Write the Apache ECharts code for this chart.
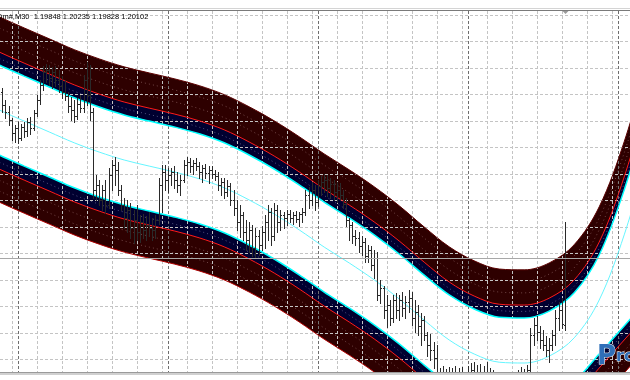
<!DOCTYPE html>
<html><head><meta charset="utf-8">
<script src="https://cdn.jsdelivr.net/npm/echarts@6/dist/echarts.min.js"></script>
<style>html,body{margin:0;padding:0;background:#fff}#c{width:630px;height:380px}</style>
</head><body><div id="c"></div>
<script>
// ---------- data (prices, bar index on x) ----------
const headerText = 'Dm#,M30  1.19848 1.20235 1.19828 1.20102';
const firstBar = -3;
const barOpen = [1.20728,1.20679,1.20652,1.20622,1.20574,1.20593,1.20555,1.20596,1.20581,1.20614,1.20593,1.20649,
1.20698,1.20755,1.20803,1.20811,1.20782,1.20803,1.20774,1.20751,1.20728,1.20713,1.20675,1.20660,1.20637,1.20683,1.20668,1.20774,1.20717,1.20652,1.20358,
1.20377,1.20320,1.20358,1.20301,1.20415,1.20452,1.20433,1.20358,1.20301,1.20252,1.20282,1.20215,1.20244,1.20199,1.20236,1.20207,1.20226,1.20215,1.20207,1.20244,1.20377,
1.20426,1.20396,1.20415,1.20426,1.20396,1.20377,1.20396,1.20452,1.20463,1.20449,1.20460,1.20449,1.20426,1.20441,1.20422,1.20433,1.20418,1.20411,
1.20377,1.20388,1.20350,1.20373,1.20320,1.20290,1.20236,1.20263,1.20199,1.20169,1.20207,1.20139,1.20184,1.20150,1.20199,1.20236,1.20274,1.20184,1.20282,1.20236,
1.20263,1.20252,1.20267,1.20252,1.20263,1.20248,1.20267,1.20274,1.20339,1.20320,1.20358,1.20312,1.20373,1.20388,1.20396,1.20366,1.20381,1.20350,
1.20358,1.20339,1.20305,1.20244,1.20226,1.20184,1.20177,1.20146,1.20161,1.20108,1.20131,1.20074,1.20101,1.19961,1.19987,1.19904,1.19923,1.19874,1.19942,1.19904,1.19942,1.19912,1.19934,1.19950,
1.19874,1.19896,1.19844,1.19866,1.19810,1.19772,1.19753,1.19723,1.19659,1.19640,1.19647,1.19621,1.19659,1.19640,1.19670,1.19632,1.19647,
1.19621,1.19659,1.19677,1.19647,1.19670,1.19640,1.19659,1.19632,1.19602,1.19621,1.19594,1.19571,1.19602,1.19583,1.19621,1.19602,1.19640,1.19655,1.19670,1.19640,
1.19677,1.19810,1.19848,1.19821,1.19791,1.19772,1.19753,1.19772,1.19810,1.19874,1.19904,1.19848];
const barHigh = [1.20744,1.20698,1.20675,1.20630,1.20604,1.20614,1.20607,1.20614,1.20630,1.20633,1.20660,1.20717,
1.20774,1.20826,1.20834,1.20830,1.20822,1.20826,1.20811,1.20789,1.20774,1.20728,1.20709,1.20698,1.20706,1.20717,1.20793,1.20842,1.20830,1.20668,1.20415,
1.20396,1.20377,1.20396,1.20441,1.20471,1.20482,1.20463,1.20377,1.20328,1.20320,1.20309,1.20282,1.20301,1.20263,1.20267,1.20259,1.20274,1.20252,1.20263,1.20404,1.20452,
1.20452,1.20441,1.20441,1.20449,1.20426,1.20415,1.20471,1.20482,1.20479,1.20471,1.20479,1.20463,1.20452,1.20456,1.20449,1.20449,1.20433,1.20426,
1.20404,1.20404,1.20396,1.20385,1.20358,1.20320,1.20301,1.20274,1.20244,1.20236,1.20226,1.20215,1.20207,1.20222,1.20263,1.20301,1.20290,1.20309,1.20301,1.20282,
1.20274,1.20282,1.20282,1.20274,1.20278,1.20274,1.20290,1.20358,1.20369,1.20388,1.20377,1.20396,1.20411,1.20418,1.20415,1.20404,1.20396,1.20388,
1.20385,1.20358,1.20328,1.20252,1.20236,1.20207,1.20199,1.20184,1.20177,1.20150,1.20146,1.20131,1.20123,1.20018,1.19995,1.19961,1.19942,1.19961,1.19969,1.19961,1.19972,1.19957,1.19980,1.19972,
1.19942,1.19923,1.19893,1.19881,1.19821,1.19813,1.19783,1.19772,1.19685,1.19692,1.19681,1.19688,1.19685,1.19692,1.19685,1.19688,1.19670,
1.19692,1.19704,1.19708,1.19696,1.19700,1.19692,1.19708,1.19685,1.19677,1.19655,1.19640,1.19632,1.19640,1.19647,1.19655,1.19662,1.19677,1.19688,1.19681,1.19696,
1.19836,1.19874,1.19881,1.19844,1.19829,1.19806,1.19798,1.19829,1.19904,1.19934,1.19950,1.20235];
const barLow = [1.20652,1.20630,1.20604,1.20547,1.20539,1.20536,1.20547,1.20558,1.20562,1.20570,1.20585,1.20637,
1.20683,1.20736,1.20766,1.20755,1.20744,1.20751,1.20728,1.20706,1.20698,1.20652,1.20622,1.20614,1.20626,1.20652,1.20652,1.20679,1.20622,1.20328,1.20320,
1.20301,1.20282,1.20271,1.20290,1.20358,1.20377,1.20339,1.20282,1.20215,1.20199,1.20177,1.20158,1.20169,1.20161,1.20177,1.20169,1.20184,1.20169,1.20177,1.20229,1.20274,
1.20358,1.20350,1.20377,1.20366,1.20350,1.20339,1.20388,1.20415,1.20426,1.20418,1.20433,1.20404,1.20388,1.20404,1.20385,1.20404,1.20396,1.20358,
1.20339,1.20328,1.20335,1.20301,1.20263,1.20207,1.20180,1.20169,1.20131,1.20123,1.20108,1.20101,1.20112,1.20131,1.20139,1.20169,1.20150,1.20169,1.20199,1.20207,
1.20215,1.20226,1.20236,1.20229,1.20236,1.20222,1.20236,1.20263,1.20290,1.20301,1.20282,1.20297,1.20339,1.20350,1.20335,1.20328,1.20320,1.20312,
1.20320,1.20290,1.20222,1.20169,1.20158,1.20150,1.20123,1.20112,1.20085,1.20085,1.20055,1.20025,1.19942,1.19931,1.19874,1.19840,1.19848,1.19858,1.19874,1.19866,1.19881,1.19874,1.19896,1.19848,
1.19821,1.19810,1.19772,1.19791,1.19730,1.19715,1.19685,1.19640,1.19602,1.19610,1.19594,1.19602,1.19617,1.19602,1.19610,1.19594,1.19583,
1.19583,1.19610,1.19621,1.19602,1.19617,1.19594,1.19610,1.19579,1.19571,1.19564,1.19549,1.19541,1.19556,1.19564,1.19571,1.19579,1.19594,1.19602,1.19610,1.19621,
1.19662,1.19772,1.19791,1.19761,1.19753,1.19730,1.19708,1.19753,1.19772,1.19829,1.19836,1.19828];
const barClose = [1.20679,1.20652,1.20622,1.20574,1.20593,1.20555,1.20596,1.20581,1.20614,1.20593,1.20649,1.20698,
1.20755,1.20803,1.20811,1.20782,1.20803,1.20774,1.20751,1.20728,1.20713,1.20675,1.20660,1.20637,1.20683,1.20668,1.20774,1.20717,1.20652,1.20358,1.20377,
1.20320,1.20358,1.20301,1.20415,1.20452,1.20433,1.20358,1.20301,1.20252,1.20282,1.20215,1.20244,1.20199,1.20236,1.20207,1.20226,1.20215,1.20207,1.20244,1.20377,1.20426,
1.20396,1.20415,1.20426,1.20396,1.20377,1.20396,1.20452,1.20463,1.20449,1.20460,1.20449,1.20426,1.20441,1.20422,1.20433,1.20418,1.20411,1.20377,
1.20388,1.20350,1.20373,1.20320,1.20290,1.20236,1.20263,1.20199,1.20169,1.20207,1.20139,1.20184,1.20150,1.20199,1.20236,1.20274,1.20184,1.20282,1.20236,1.20263,
1.20252,1.20267,1.20252,1.20263,1.20248,1.20267,1.20274,1.20339,1.20320,1.20358,1.20312,1.20373,1.20388,1.20396,1.20366,1.20381,1.20350,1.20358,
1.20339,1.20305,1.20244,1.20226,1.20184,1.20177,1.20146,1.20161,1.20108,1.20131,1.20074,1.20101,1.19961,1.19987,1.19904,1.19923,1.19874,1.19942,1.19904,1.19942,1.19912,1.19934,1.19950,1.19874,
1.19896,1.19844,1.19866,1.19810,1.19772,1.19753,1.19723,1.19659,1.19640,1.19647,1.19621,1.19659,1.19640,1.19670,1.19632,1.19647,1.19621,
1.19659,1.19677,1.19647,1.19670,1.19640,1.19659,1.19632,1.19602,1.19621,1.19594,1.19571,1.19602,1.19583,1.19621,1.19602,1.19640,1.19655,1.19670,1.19640,1.19677,
1.19810,1.19848,1.19821,1.19791,1.19772,1.19753,1.19772,1.19810,1.19874,1.19904,1.19851,1.20102];

const bandX = [-12,-4,4,12,20,28,36,44,52,60,68,76,84,92,100,108,116,124,132,140,148,156,164,172,180,188,196,204];
const midLine    = [1.20706,1.20660,1.20618,1.20577,1.20536,1.20501,1.20471,1.20448,1.20426,1.20400,1.20366,1.20320,1.20267,1.20207,1.20142,1.20082,1.20018,1.19946,1.19866,1.19791,1.19738,1.19707,1.19704,1.19730,1.19799,1.19942,1.20188,1.20509];
const upperOuter = [1.21058,1.21012,1.20970,1.20929,1.20888,1.20853,1.20823,1.20800,1.20778,1.20752,1.20718,1.20672,1.20619,1.20559,1.20494,1.20434,1.20370,1.20298,1.20218,1.20143,1.20090,1.20059,1.20056,1.20082,1.20151,1.20294,1.20540,1.20861];
const upperDot2  = [1.21016,1.20970,1.20928,1.20887,1.20846,1.20811,1.20781,1.20758,1.20736,1.20710,1.20676,1.20630,1.20577,1.20517,1.20452,1.20392,1.20328,1.20256,1.20176,1.20101,1.20048,1.20017,1.20014,1.20040,1.20109,1.20252,1.20498,1.20819];
const upperDot1  = [1.20971,1.20925,1.20883,1.20842,1.20801,1.20766,1.20736,1.20713,1.20691,1.20665,1.20631,1.20585,1.20532,1.20472,1.20407,1.20347,1.20283,1.20211,1.20131,1.20056,1.20003,1.19972,1.19969,1.19995,1.20064,1.20207,1.20453,1.20774];
const upperRed   = [1.20925,1.20879,1.20837,1.20796,1.20755,1.20720,1.20690,1.20667,1.20645,1.20619,1.20585,1.20539,1.20486,1.20426,1.20361,1.20301,1.20237,1.20165,1.20085,1.20010,1.19957,1.19926,1.19923,1.19949,1.20018,1.20161,1.20407,1.20728];
const upperDotN  = [1.20901,1.20855,1.20813,1.20772,1.20731,1.20696,1.20666,1.20643,1.20621,1.20595,1.20561,1.20515,1.20462,1.20402,1.20337,1.20277,1.20213,1.20141,1.20061,1.19986,1.19933,1.19902,1.19899,1.19925,1.19994,1.20137,1.20383,1.20704];
const upperInner = [1.20876,1.20830,1.20788,1.20747,1.20706,1.20671,1.20641,1.20618,1.20596,1.20570,1.20536,1.20490,1.20437,1.20377,1.20312,1.20252,1.20188,1.20116,1.20036,1.19961,1.19908,1.19877,1.19874,1.19900,1.19969,1.20112,1.20358,1.20679];
const lowerInner = [1.20536,1.20490,1.20448,1.20407,1.20366,1.20331,1.20301,1.20278,1.20256,1.20230,1.20196,1.20150,1.20097,1.20037,1.19972,1.19912,1.19848,1.19776,1.19696,1.19621,1.19568,1.19537,1.19534,1.19560,1.19632,1.19738,1.19844,1.19950];
const lowerDotN  = [1.20509,1.20463,1.20421,1.20380,1.20339,1.20304,1.20274,1.20251,1.20229,1.20203,1.20169,1.20123,1.20070,1.20010,1.19945,1.19885,1.19821,1.19749,1.19669,1.19594,1.19541,1.19510,1.19507,1.19534,1.19606,1.19712,1.19818,1.19924];
const lowerRed   = [1.20483,1.20437,1.20395,1.20354,1.20313,1.20278,1.20248,1.20225,1.20203,1.20177,1.20143,1.20097,1.20044,1.19984,1.19919,1.19859,1.19795,1.19723,1.19643,1.19568,1.19515,1.19484,1.19481,1.19507,1.19579,1.19685,1.19791,1.19896];
const lowerDot1  = [1.20441,1.20395,1.20353,1.20312,1.20271,1.20236,1.20206,1.20183,1.20161,1.20135,1.20101,1.20055,1.20002,1.19942,1.19877,1.19817,1.19753,1.19681,1.19601,1.19526,1.19473,1.19442,1.19439,1.19465,1.19537,1.19643,1.19749,1.19855];
const lowerDot2  = [1.20400,1.20354,1.20312,1.20271,1.20230,1.20195,1.20165,1.20142,1.20120,1.20094,1.20060,1.20014,1.19961,1.19901,1.19836,1.19776,1.19712,1.19640,1.19560,1.19485,1.19432,1.19401,1.19398,1.19424,1.19496,1.19602,1.19708,1.19814];
const lowerOuter = [1.20358,1.20312,1.20270,1.20229,1.20188,1.20153,1.20123,1.20100,1.20078,1.20052,1.20018,1.19972,1.19919,1.19859,1.19794,1.19734,1.19670,1.19598,1.19518,1.19443,1.19390,1.19359,1.19356,1.19383,1.19454,1.19560,1.19666,1.19772];

const priceGrid = [1.21019,1.20919,1.20819,1.20719,1.20619,1.20519,1.20419,1.20319,1.20219,1.20119,1.20019,1.19919,1.19819,1.19719];
const timeGrid = [0,8,16,24,32,40,48,56,64,72,80,88,96,104,112,120,128,136,144,152,160,168,176,184,192];
const periodSeparators = [2,50,98,146,194];
const bidPrice = 1.20102;

// ---------- build ----------
const chart = echarts.init(document.getElementById('c'), null, {renderer:'canvas'});
const pair = arr => bandX.map((x,k)=>[x, arr[k]]);
const SM = 0.35;
const bars = barOpen.map((o,k)=>[firstBar+k, o, barHigh[k], barLow[k], barClose[k]]);
const DARK_RED = '#2e0000', NAVY = '#000030';

function fillDown(arr, color, z){
  return {type:'line', data:pair(arr), smooth:SM, symbol:'none', silent:true, z,
    lineStyle:{width:0, opacity:0}, areaStyle:{color, opacity:1, origin:'start'}};
}
function lineSeries(arr, color, width, z, dash){
  return {type:'line', data:pair(arr), smooth:SM, symbol:'none', silent:true, z,
    lineStyle:{color, width, type: dash || 'solid'}};
}
function gridLines(data, vertical, color, dash, z){
  return {type:'custom', silent:true, z, data, clip:true,
    renderItem(params, api){
      const cs = params.coordSys;
      if (vertical){
        const x = Math.round(api.coord([api.value(0), bidPrice])[0]) + 0.5;
        return {type:'line', shape:{x1:x,y1:cs.y,x2:x,y2:cs.y+cs.height}, style:{stroke:color,lineWidth:1,lineDash:dash}};
      }
      const y = Math.round(api.coord([0, api.value(1)])[1]) + 0.5;
      return {type:'line', shape:{x1:cs.x,y1:y,x2:cs.x+cs.width,y2:y}, style:{stroke:color,lineWidth:1,lineDash:dash}};
    }};
}
const DOT_R = 'rgba(255,215,215,0.32)', DOT_N = 'rgba(210,210,255,0.38)';

const option = {
  animation:false,
  backgroundColor:'#ffffff',
  grid:{left:0,right:0,top:11,bottom:8,containLabel:false},
  xAxis:{type:'value', min:-3.744, max:197.86, show:false},
  yAxis:{type:'value', min:1.19670, max:1.21034, show:false, scale:true},
  series:[
    fillDown(upperOuter, DARK_RED, 1),
    fillDown(upperRed,   NAVY, 1),
    fillDown(upperInner, '#ffffff', 1),
    fillDown(lowerInner, NAVY, 1),
    fillDown(lowerRed,   DARK_RED, 1),
    fillDown(lowerOuter, '#ffffff', 1),
    lineSeries(upperDot2, DOT_R, 1, 2, [1,3]),
    lineSeries(upperDot1, DOT_R, 1, 2, [1,3]),
    lineSeries(upperDotN, DOT_N, 1, 2, [1,3]),
    lineSeries(lowerDotN, DOT_N, 1, 2, [1,3]),
    lineSeries(lowerDot1, DOT_R, 1, 2, [1,3]),
    lineSeries(lowerDot2, DOT_R, 1, 2, [1,3]),
    gridLines(priceGrid.map(p=>[0,p]), false, '#c4c4c4', [3,2], 2),
    gridLines(timeGrid.map(t=>[t,bidPrice]), true, '#c4c4c4', [3,2], 2),
    gridLines(periodSeparators.map(t=>[t,bidPrice]), true, '#6e6e6e', [3,2], 2),
    lineSeries(upperOuter, '#5a0000', 1, 3),
    lineSeries(upperRed, '#ff1a1a', 1, 3),
    lineSeries(upperInner, '#00ffff', 1.5, 3),
    lineSeries(lowerInner, '#00ffff', 1.5, 3),
    lineSeries(lowerRed, '#ff1a1a', 1, 3),
    lineSeries(lowerOuter, '#b00000', 1, 3),
    lineSeries(midLine, '#66f5ff', 1, 3),
    {type:'custom', silent:true, z:4, clip:true, data:bars,
      encode:{x:0, y:[1,2,3,4]},
      renderItem(params, api){
        const i = api.value(0);
        const pO = api.coord([i, api.value(1)]), pH = api.coord([i, api.value(2)]);
        const pL = api.coord([i, api.value(3)]), pC = api.coord([i, api.value(4)]);
        const X = Math.round(pH[0]);
        const st = {stroke:'#2a2a2a', lineWidth:1};
        return {type:'group', children:[
          {type:'line', shape:{x1:X+0.5,y1:Math.round(pH[1]),x2:X+0.5,y2:Math.round(pL[1])+1}, style:st},
          {type:'line', shape:{x1:X-1,y1:Math.round(pO[1])+0.5,x2:X,y2:Math.round(pO[1])+0.5}, style:st},
          {type:'line', shape:{x1:X+1,y1:Math.round(pC[1])+0.5,x2:X+2,y2:Math.round(pC[1])+0.5}, style:st}
        ]};
      }},
    {type:'custom', silent:true, z:5, clip:true, data:[[0,bidPrice]],
      renderItem(params, api){
        const cs = params.coordSys;
        const y = Math.round(api.coord([0, api.value(1)])[1]) + 0.5;
        return {type:'line', shape:{x1:cs.x,y1:y,x2:cs.x+cs.width,y2:y}, style:{stroke:'#a8a8a8',lineWidth:1}};
      }}
  ]
};
chart.setOption(option);

const lastIdx = firstBar + barOpen.length - 1;
const lastX = Math.round(chart.convertToPixel({xAxisIndex:0}, lastIdx)) + 0.5;
chart.setOption({graphic:[
  {type:'rect', shape:{x:0,y:0,width:630,height:10}, style:{fill:'#ffffff'}, z:100, silent:true},
  {type:'line', shape:{x1:0,y1:8.5,x2:630,y2:8.5}, style:{stroke:'#d4d4d4',lineWidth:1}, z:101, silent:true},
  {type:'line', shape:{x1:0,y1:10.5,x2:630,y2:10.5}, style:{stroke:'#7a7a7a',lineWidth:1}, z:101, silent:true},
  {type:'rect', shape:{x:0,y:372,width:630,height:8}, style:{fill:'#ffffff'}, z:100, silent:true},
  {type:'line', shape:{x1:0,y1:372.5,x2:630,y2:372.5}, style:{stroke:'#9a9a9a',lineWidth:1}, z:101, silent:true},
  {type:'line', shape:{x1:0,y1:374,x2:630,y2:374}, style:{stroke:'#d0d0d0',lineWidth:2}, z:101, silent:true},
  {type:'polygon', shape:{points:[[lastX-3,11],[lastX+3,11],[lastX,14]]}, style:{fill:'#9a9a9a'}, z:102, silent:true},
  {type:'text', x:-3, y:13, z:103, silent:true,
    style:{text:headerText, font:'7.5px "Liberation Sans", Arial, sans-serif', fill:'#000000', verticalAlign:'top', textVerticalAlign:'top'}},
  {type:'text', x:597, y:344, z:103, silent:true,
    style:{text:'{a|P}{b|ro}', fill:'#2f6fb8', verticalAlign:'top', textVerticalAlign:'top',
      stroke:'#ffffff', lineWidth:1,
      rich:{a:{font:'bold 26px "DejaVu Sans", sans-serif', fill:'#2f6fb8', stroke:'#ffffff', lineWidth:1},
            b:{font:'bold 16px "DejaVu Sans", sans-serif', fill:'#2f6fb8', stroke:'#ffffff', lineWidth:1}}}}
]});
</script>
</body></html>
